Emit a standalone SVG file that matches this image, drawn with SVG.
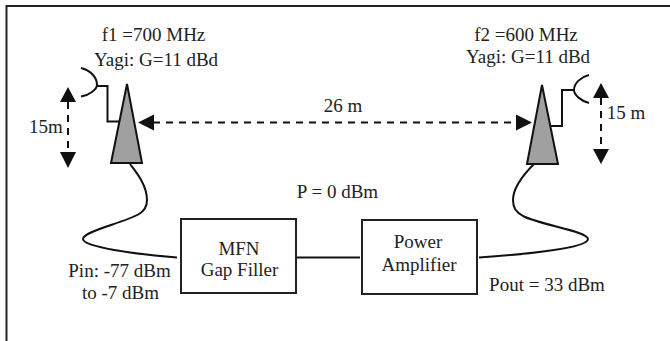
<svg xmlns="http://www.w3.org/2000/svg" width="670" height="341" viewBox="0 0 670 341">
<style>
text{font-family:"Liberation Serif","Times New Roman",serif;font-size:19px;fill:#222;text-anchor:middle}
.l{fill:none;stroke:#111;stroke-width:2}
.d{stroke:#111;stroke-width:2;stroke-dasharray:7 6;fill:none}
.a{fill:#a0a0a0;stroke:#111;stroke-width:2;stroke-linejoin:miter}
.b{fill:#fff;stroke:#222;stroke-width:2}
.h{fill:#111;stroke:none}
</style>
<rect width="670" height="341" fill="#fff"/>
<path id="frame" d="M670 6H6.500V341" fill="none" stroke="#222" stroke-width="2"/>
<g id="connectors">
<path class="l" d="M130 164C136 172 147 185 147 200C147 207 144 211 139 214C124 223 83 231 83 239C83 247 135 254 177 257.500"/>
<path class="l" d="M534 164C525 173 513 187 513 200C513 208 516 212 523 216C540 225 588 231 588 239C588 248 530 254 479 257.500"/>
<path class="l" d="M296 257.500H360"/>
<path class="d" d="M153 122.500H517"/>
<path class="h" d="M138 122.500L154 114.500V130.500ZM532 122.500L516 114.500V130.500Z"/>
<path class="d" d="M68 102V152"/>
<path class="h" d="M68 87L76 102H60ZM68 168L76 152H60Z"/>
<path class="d" d="M601 98V149"/>
<path class="h" d="M601 83L609 98H593ZM601 164L609 149H593Z"/>
</g>
<g id="antenna-left">
<path class="l" d="M81 68C90 70 97 77 97 85C97 89 90 95 81 96.500M97 86H107.500V121.500H119"/>
<path class="a" d="M127 84L142 163H111Z"/>
</g>
<g id="antenna-right">
<path class="l" d="M589 75C581 77 574 83 574 90C574 95 581 101 589 103M551 126H562V90H574"/>
<path class="a" d="M542 85L558 164H527Z"/>
</g>
<g id="gap-filler">
<rect class="b" x="181" y="219" width="115" height="74"/>
<text x="239" y="255">MFN</text>
<text x="239.500" y="276">Gap Filler</text>
</g>
<g id="power-amplifier">
<rect class="b" x="362" y="220" width="115" height="74"/>
<text x="418" y="248">Power</text>
<text x="419" y="271">Amplifier</text>
</g>
<g id="labels">
<text x="153.500" y="41">f1 =700 MHz</text>
<text x="156" y="66">Yagi: G=11 dBd</text>
<text x="526" y="41">f2 =600 MHz</text>
<text x="528" y="63">Yagi: G=11 dBd</text>
<text x="46" y="133">15m</text>
<text x="626" y="119">15 m</text>
<text x="343" y="112">26 m</text>
<text x="337.500" y="198">P = 0 dBm</text>
<text x="119.500" y="277">Pin: -77 dBm</text>
<text x="120.500" y="299">to -7 dBm</text>
<text x="547" y="291">Pout = 33 dBm</text>
</g>
</svg>
